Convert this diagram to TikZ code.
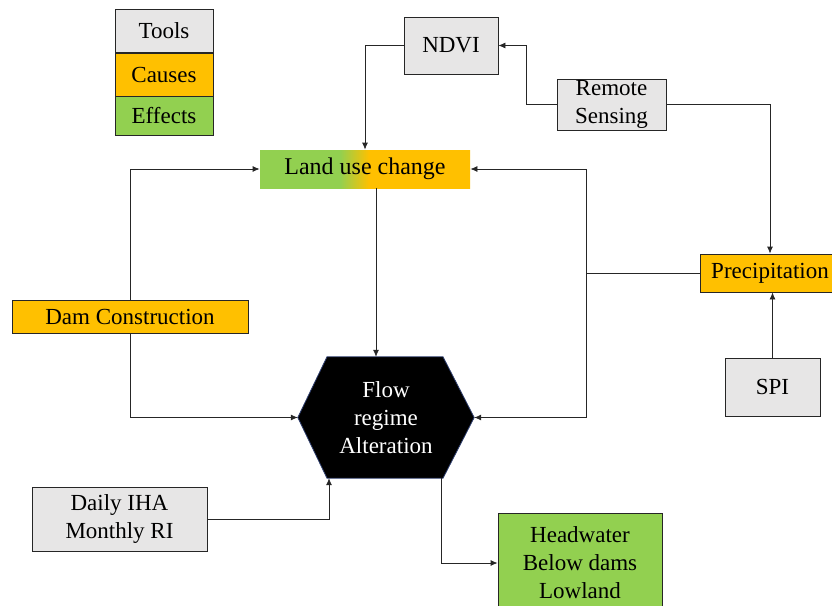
\documentclass[tikz,border=0pt]{standalone}
\usepackage{fontspec}
\setmainfont{Liberation Serif}
\usetikzlibrary{arrows.meta,backgrounds}
\definecolor{toolgray}{HTML}{E7E6E6}
\definecolor{causeorg}{HTML}{FFC000}
\definecolor{effgreen}{HTML}{92D050}
\definecolor{linegray}{HTML}{262626}
\definecolor{hexblue}{HTML}{2F3F6F}
\pgfdeclarehorizontalshading{lushade}{100bp}{color(0bp)=(effgreen); color(44bp)=(effgreen); color(51bp)=(causeorg); color(100bp)=(causeorg)}
\newcommand\dfont{\fontsize{23}{28}\selectfont}
\tikzset{
  base/.style={draw=linegray, line width=0.8pt, inner sep=0pt, align=center, font=\dfont, text=black},
  tool/.style={base, fill=toolgray},
  cause/.style={base, fill=causeorg},
  effect/.style={base, fill=effgreen},
  conn/.style={draw=linegray, line width=0.8pt, -{Latex[length=7pt,width=6pt]}},
  plain/.style={draw=linegray, line width=0.8pt}
}
\begin{document}
\begin{tikzpicture}[x=1pt,y=-1pt]
\useasboundingbox (0,0) rectangle (832,605);
% legend
\node[tool, minimum width=98pt, minimum height=43pt] (ltools) at (164,31) {Tools};
\node[cause, minimum width=98pt, minimum height=43pt] (lcauses) at (164,75) {Causes};
\node[effect, minimum width=98pt, minimum height=39pt] (leffects) at (164,116) {Effects};
% nodes
\node[tool, minimum width=94pt, minimum height=57pt] (ndvi) at (451,45.5) {NDVI};
\node[tool, minimum width=109pt, minimum height=51pt] (rs) at (611.5,104.5) {Remote\\Sensing};
\node[base, draw=none, shading=lushade, minimum width=210pt, minimum height=38pt, font=\fontsize{24}{28}\selectfont] (lu) at (365,169) {Land use change};
\node[cause, minimum width=140pt, minimum height=38pt] (precip) at (770,273) {Precipitation};
\node[tool, minimum width=95pt, minimum height=58pt] (spi) at (772.5,387) {SPI};
\node[cause, minimum width=236pt, minimum height=33pt] (dam) at (130,316.5) {Dam Construction};
\node[tool, minimum width=175pt, minimum height=64pt] (daily) at (119.5,519) {Daily IHA\\Monthly RI};
\node[effect, minimum width=164pt, minimum height=100pt] (hw) at (580,563) {Headwater\\Below dams\\Lowland};
\node[inner sep=0pt, minimum width=176pt, minimum height=121pt, align=center, font=\dfont, text=white] (flow) at (386,417.5) {Flow\\regime\\Alteration};
\begin{scope}[on background layer]
\draw[draw=hexblue, line width=0.8pt, fill=black] (flow.west) -- ([xshift=-59pt]flow.north) -- ([xshift=57pt]flow.north) -- (flow.east) -- ([xshift=57pt]flow.south) -- ([xshift=-59pt]flow.south) -- cycle;
\end{scope}
% connectors
\draw[conn] (ndvi.west) -| (lu.north);
\draw[conn] (rs.west) -- ++(-30,0) |- (ndvi.east);
\draw[conn] (rs.east) -| (precip.north);
\draw[conn] (spi.north) -- (spi.north |- precip.south);
\coordinate (j) at (586,273);
\draw[plain] (precip.west) -- (j);
\draw[conn] (j) |- (lu.east);
\draw[conn] (j) |- (flow.east);
\draw[conn] (dam.north) |- (lu.west);
\draw[conn] (dam.south) |- (flow.west);
\draw[conn] ([xshift=11pt]lu.south) -- ([xshift=11pt]lu.south |- flow.north);
\draw[conn] (daily.east) -| ([xshift=-57pt]flow.south);
\draw[conn] ([xshift=55pt]flow.south) |- (hw.west);
\end{tikzpicture}
\end{document}
